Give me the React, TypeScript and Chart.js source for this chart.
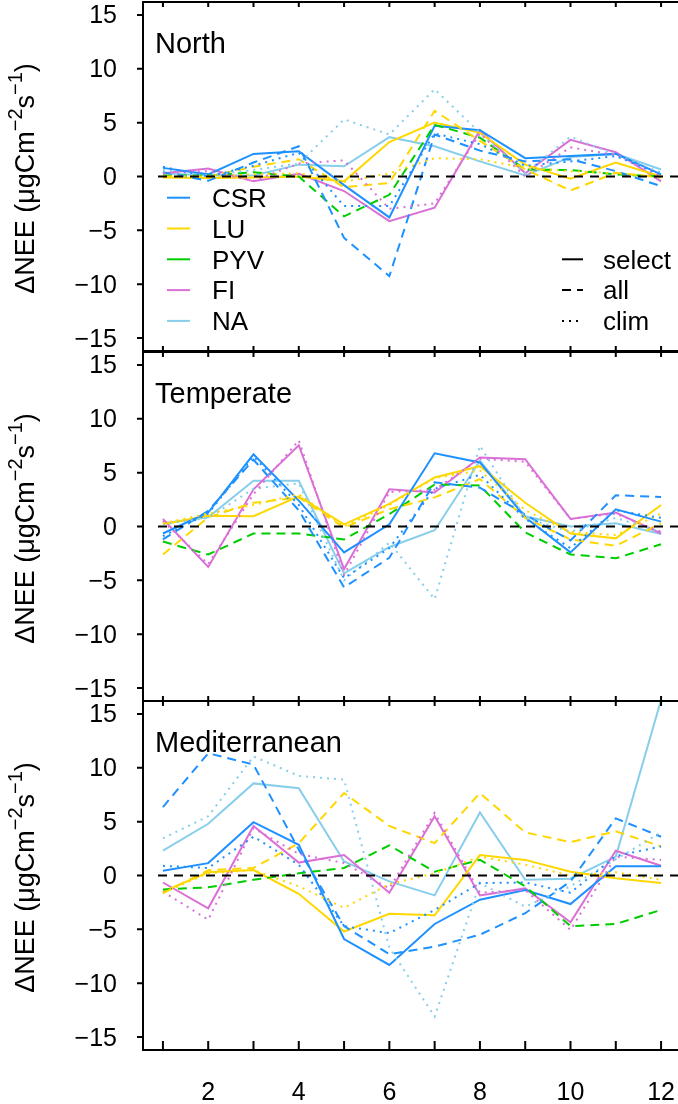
import React, { useEffect, useRef } from 'react';
import { Chart, registerables } from 'chart.js';

Chart.register(...registerables);

// ---------------- data ----------------
const months = [1, 2, 3, 4, 5, 6, 7, 8, 9, 10, 11, 12];
const xTickLabels = ['2', '4', '6', '8', '10', '12'];
const xTickValues = [2, 4, 6, 8, 10, 12];
const yTickValues = [-15, -10, -5, 0, 5, 10, 15];
const groupNames = ['CSR', 'LU', 'PYV', 'FI', 'NA'];
const styleNames = ['select', 'all', 'clim'];
const panelNames = ['North', 'Temperate', 'Mediterranean'];

// North
const northCSRSelect = [0.8, 0.2, 2.1, 2.35, -0.8, -3.8, 4.7, 4.3, 1.7, 1.9, 2.1, 0.2];
const northCSRAll = [0.4, -0.4, 1.3, 2.8, -5.7, -9.25, 3.9, 2.4, 1.4, 1.6, 0.5, -0.9];
const northCSRClim = [0.9, 0.0, 1.0, 2.2, -2.75, -2.75, 4.0, 3.0, 1.0, 1.4, 1.9, 0.2];
const northLUSelect = [-0.1, -0.15, -0.1, 0.0, -0.45, 3.2, 5.0, 4.05, 1.1, -0.2, 1.3, 0.0];
const northLUAll = [0.0, 0.0, 0.9, 1.6, -1.0, -0.6, 6.1, 3.3, 0.65, -1.3, 0.35, -0.1];
const northLUClim = [0.0, 0.0, 0.2, 0.3, -0.5, 0.3, 1.7, 1.6, 0.8, 0.5, 0.3, 0.0];
const northPYVAll = [0.1, 0.1, 0.4, 0.0, -3.7, -1.7, 4.8, 3.6, 0.65, 0.6, 0.2, 0.0];
const northFISelect = [0.3, 0.75, -0.45, 0.25, -1.35, -4.15, -2.9, 4.3, 0.3, 3.4, 2.25, -0.45];
const northFIClim = [0.3, 0.5, -0.4, 1.2, 1.5, -3.0, -2.5, 4.0, 0.0, 2.7, 2.0, 0.0];
const northNASelect = [0.3, 0.1, 0.1, 1.1, 0.95, 3.65, 2.8, 1.4, 0.1, 1.8, 2.1, 0.65];
const northNAClim = [0.6, 0.1, 0.6, 1.2, 5.3, 3.9, 8.1, 4.05, 0.3, 3.7, 2.0, 0.35];

// Temperate
const tempCSRSelect = [-0.65, 1.3, 6.7, 2.4, -2.4, 0.2, 6.8, 5.95, 0.85, -2.4, 1.6, 0.45];
const tempCSRAll = [-1.2, 1.45, 6.2, 1.5, -5.65, -2.9, 4.1, 3.6, 1.1, -1.3, 2.9, 2.75];
const tempCSRClim = [-0.9, 1.2, 6.5, 2.0, -4.8, -2.0, 3.5, 4.8, 0.7, -2.0, 1.5, 0.8];
const tempLUSelect = [0.2, 1.0, 0.95, 2.8, 0.2, 2.1, 4.55, 5.6, 2.2, -0.65, -1.1, 2.0];
const tempLUAll = [-2.6, 0.85, 2.2, 2.7, -0.1, 1.6, 2.7, 4.4, 0.8, -1.2, -1.8, 0.3];
const tempLUClim = [0.3, 1.2, 2.0, 3.0, 0.0, 2.0, 4.5, 5.2, 1.5, -0.5, -0.8, 1.2];
const tempPYVAll = [-1.4, -2.6, -0.65, -0.65, -1.2, 1.15, 3.9, 3.8, -0.55, -2.6, -2.95, -1.65];
const tempFISelect = [0.7, -3.75, 3.45, 7.55, -3.95, 3.45, 3.15, 6.4, 6.25, 0.7, 1.3, -0.65];
const tempFIClim = [0.5, -3.5, 3.0, 8.0, -4.5, 3.2, 3.4, 6.3, 6.0, 0.7, 1.2, -0.5];
const tempNASelect = [0.3, 0.85, 4.25, 4.25, -4.35, -1.9, -0.35, 6.1, 0.95, 0.0, 0.3, -0.7];
const tempNAClim = [0.2, 0.8, 3.5, 4.0, -5.0, -1.5, -6.75, 7.5, 0.8, -0.5, 0.8, -0.5];

// Mediterranean
const medCSRSelect = [0.45, 1.15, 4.95, 2.85, -5.9, -8.3, -4.5, -2.25, -1.35, -2.65, 0.85, 0.85];
const medCSRAll = [6.35, 11.35, 10.3, 2.4, -4.7, -7.3, -6.6, -5.5, -3.5, -0.55, 5.3, 3.6];
const medCSRClim = [0.9, 0.7, 3.6, 1.0, -4.7, -5.35, -3.2, -0.7, -0.65, -1.6, 1.8, 2.7];
const medLUSelect = [-1.5, 0.3, 0.5, -1.7, -5.2, -3.55, -3.7, 1.9, 1.45, 0.35, -0.25, -0.7];
const medLUAll = [-1.65, 0.5, 0.7, 3.0, 7.65, 4.6, 3.0, 7.65, 4.0, 3.1, 4.1, 2.7];
const medLUClim = [-1.6, 0.2, 0.5, -1.0, -3.0, -0.8, 0.2, 1.75, 1.0, 0.0, 0.3, -0.4];
const medPYVAll = [-1.3, -1.1, -0.4, 0.2, 0.7, 2.8, 0.35, 1.45, -1.0, -4.7, -4.5, -3.2];
const medFISelect = [-0.65, -3.05, 4.6, 1.2, 1.9, -1.6, 5.5, -1.85, -1.2, -4.35, 2.3, 0.9];
const medFIClim = [-1.5, -4.1, 4.4, 2.0, 1.15, -1.2, 5.8, -1.6, -1.35, -5.05, 1.75, 1.45];
const medNASelect = [2.3, 4.8, 8.55, 8.1, 1.3, -0.55, -1.85, 5.85, -0.4, -0.3, 1.75, 16.3];
const medNAClim = [3.45, 5.5, 11.05, 9.25, 8.9, -6.7, -13.1, -0.7, -2.9, -1.0, 1.5, 4.0];

type Series = { group: string; style: string; values: number[] };

const panelSeries: Series[][] = [
  [
    { group: 'CSR', style: 'clim', values: northCSRClim },
    { group: 'LU', style: 'clim', values: northLUClim },
    { group: 'FI', style: 'clim', values: northFIClim },
    { group: 'NA', style: 'clim', values: northNAClim },
    { group: 'CSR', style: 'all', values: northCSRAll },
    { group: 'LU', style: 'all', values: northLUAll },
    { group: 'PYV', style: 'all', values: northPYVAll },
    { group: 'CSR', style: 'select', values: northCSRSelect },
    { group: 'LU', style: 'select', values: northLUSelect },
    { group: 'FI', style: 'select', values: northFISelect },
    { group: 'NA', style: 'select', values: northNASelect },
  ],
  [
    { group: 'CSR', style: 'clim', values: tempCSRClim },
    { group: 'LU', style: 'clim', values: tempLUClim },
    { group: 'FI', style: 'clim', values: tempFIClim },
    { group: 'NA', style: 'clim', values: tempNAClim },
    { group: 'CSR', style: 'all', values: tempCSRAll },
    { group: 'LU', style: 'all', values: tempLUAll },
    { group: 'PYV', style: 'all', values: tempPYVAll },
    { group: 'CSR', style: 'select', values: tempCSRSelect },
    { group: 'LU', style: 'select', values: tempLUSelect },
    { group: 'FI', style: 'select', values: tempFISelect },
    { group: 'NA', style: 'select', values: tempNASelect },
  ],
  [
    { group: 'CSR', style: 'clim', values: medCSRClim },
    { group: 'LU', style: 'clim', values: medLUClim },
    { group: 'FI', style: 'clim', values: medFIClim },
    { group: 'NA', style: 'clim', values: medNAClim },
    { group: 'CSR', style: 'all', values: medCSRAll },
    { group: 'LU', style: 'all', values: medLUAll },
    { group: 'PYV', style: 'all', values: medPYVAll },
    { group: 'CSR', style: 'select', values: medCSRSelect },
    { group: 'LU', style: 'select', values: medLUSelect },
    { group: 'FI', style: 'select', values: medFISelect },
    { group: 'NA', style: 'select', values: medNASelect },
  ],
];

// ---------------- styling / layout ----------------
const groupColors: Record<string, string> = {
  CSR: '#1E90FF',
  LU: '#FFD700',
  PYV: '#00CD00',
  FI: '#DA70D6',
  NA: '#87CEEB',
};
const styleDash: Record<string, number[]> = {
  select: [],
  all: [9, 6],
  clim: [2, 5],
};

const CANVAS_W = 700;
const CANVAS_H = 1104;
const VIEW_W = 678;
const PLOT_LEFT = 143;
const PLOT_RIGHT = 681;
const PANEL_TOPS = [2, 352, 701];
const PANEL_H = 349;
const X_MIN = 0.56;
const X_MAX = 12.44;
const Y_MIN = -16.2;
const Y_MAX = 16.2;
const FONT = '"Liberation Sans", Arial, Helvetica, sans-serif';

function drawYTitle(ctx: CanvasRenderingContext2D, baseX: number, cy: number) {
  ctx.save();
  ctx.translate(baseX, cy);
  ctx.rotate(-Math.PI / 2);
  const mainF = `27px ${FONT}`;
  const supF = `20px ${FONT}`;
  const parts: [string, boolean][] = [
    ['\u0394NEE (\u03bcgCm', false],
    ['\u22122', true],
    ['s', false],
    ['\u22121', true],
    [')', false],
  ];
  const widths: number[] = [];
  let total = 0;
  for (const [t, s] of parts) {
    ctx.font = s ? supF : mainF;
    const w = ctx.measureText(t).width;
    widths.push(w);
    total += w;
  }
  let xx = -total / 2;
  ctx.fillStyle = '#000';
  ctx.textAlign = 'left';
  ctx.textBaseline = 'alphabetic';
  parts.forEach(([t, s], i) => {
    ctx.font = s ? supF : mainF;
    ctx.fillText(t, xx, s ? -12 : 0);
    xx += widths[i];
  });
  ctx.restore();
}

function makeDecorPlugin(panelIndex: number) {
  return {
    id: 'decor' + panelIndex,
    afterDatasetsDraw(chart: any) {
      const ctx: CanvasRenderingContext2D = chart.ctx;
      const a = chart.chartArea;
      const xs = chart.scales.x;
      const ys = chart.scales.y;
      ctx.save();
      // zero reference line
      const y0 = ys.getPixelForValue(0);
      ctx.strokeStyle = '#000';
      ctx.lineWidth = 2;
      ctx.setLineDash([9, 7]);
      ctx.beginPath();
      ctx.moveTo(a.left + 15, y0);
      ctx.lineTo(a.right, y0);
      ctx.stroke();
      ctx.setLineDash([]);

      // box
      ctx.lineWidth = 2;
      ctx.strokeRect(a.left, a.top, a.right - a.left, a.bottom - a.top);

      // x ticks (inward, top & bottom)
      const bottomLen = panelIndex === 2 ? 9 : 5;
      ctx.beginPath();
      for (const m of months) {
        const px = xs.getPixelForValue(m);
        ctx.moveTo(px, a.top);
        ctx.lineTo(px, a.top + 5);
        ctx.moveTo(px, a.bottom);
        ctx.lineTo(px, a.bottom - bottomLen);
      }
      ctx.stroke();

      // y ticks + labels
      ctx.font = `25px ${FONT}`;
      ctx.fillStyle = '#000';
      ctx.textAlign = 'right';
      ctx.textBaseline = 'alphabetic';
      ctx.beginPath();
      for (const v of yTickValues) {
        const py = ys.getPixelForValue(v);
        ctx.moveTo(a.left - 6, py);
        ctx.lineTo(a.left, py);
        ctx.fillText(String(v).replace('-', '\u2212'), 117, py + 8.5);
      }
      ctx.stroke();

      // x labels on last panel
      if (panelIndex === 2) {
        ctx.textAlign = 'center';
        xTickValues.forEach((v, i) => {
          ctx.fillText(xTickLabels[i], xs.getPixelForValue(v), 1100);
        });
      }

      // panel title
      ctx.font = `29px ${FONT}`;
      ctx.textAlign = 'left';
      ctx.fillText(panelNames[panelIndex], 155, a.top + 51);

      // y axis title
      drawYTitle(ctx, 34, (a.top + a.bottom) / 2 + 2);

      // legends in first panel
      if (panelIndex === 0) {
        const rows = [197.7, 228.5, 259.3, 290.1, 320.9];
        ctx.font = `26px ${FONT}`;
        ctx.textAlign = 'left';
        groupNames.forEach((g, i) => {
          ctx.strokeStyle = groupColors[g];
          ctx.lineWidth = 2;
          ctx.setLineDash([]);
          ctx.beginPath();
          ctx.moveTo(167, rows[i]);
          ctx.lineTo(190, rows[i]);
          ctx.stroke();
          ctx.fillStyle = '#000';
          ctx.fillText(g, 212, rows[i] + 9.3);
        });
        styleNames.forEach((s, i) => {
          const ry = rows[i + 2];
          ctx.strokeStyle = '#000';
          ctx.lineWidth = 2;
          ctx.setLineDash(styleDash[s]);
          ctx.beginPath();
          ctx.moveTo(562, ry);
          ctx.lineTo(583, ry);
          ctx.stroke();
          ctx.setLineDash([]);
          ctx.fillText(s, 603, ry + 9.3);
        });
      }
      ctx.restore();
    },
  };
}

function buildConfig(panelIndex: number): any {
  const top = PANEL_TOPS[panelIndex];
  const bottom = top + PANEL_H;
  const datasets = panelSeries[panelIndex].map((s) => ({
    label: `${s.group} ${s.style}`,
    data: months.map((m, i) => ({ x: m, y: s.values[i] })),
    borderColor: groupColors[s.group],
    backgroundColor: groupColors[s.group],
    borderWidth: 2,
    borderDash: styleDash[s.style],
    borderCapStyle: 'butt',
    pointRadius: 0,
    tension: 0,
    fill: false,
  }));
  return {
    type: 'line',
    data: { datasets },
    options: {
      responsive: false,
      animation: false,
      devicePixelRatio: 1,
      events: [],
      layout: {
        padding: {
          left: PLOT_LEFT,
          right: CANVAS_W - PLOT_RIGHT,
          top,
          bottom: CANVAS_H - bottom,
        },
      },
      scales: {
        x: { type: 'linear', min: X_MIN, max: X_MAX, display: false },
        y: { type: 'linear', min: Y_MIN, max: Y_MAX, display: false },
      },
      plugins: {
        legend: { display: false },
        tooltip: { enabled: false },
        title: { display: false },
      },
    },
    plugins: [makeDecorPlugin(panelIndex)],
  };
}

function Panel({ index }: { index: number }) {
  const ref = useRef<HTMLCanvasElement | null>(null);
  useEffect(() => {
    if (!ref.current) return;
    const chart = new Chart(ref.current, buildConfig(index));
    return () => chart.destroy();
  }, [index]);
  return (
    <canvas
      ref={ref}
      width={CANVAS_W}
      height={CANVAS_H}
      style={{ position: 'absolute', left: 0, top: 0, width: CANVAS_W, height: CANVAS_H }}
    />
  );
}

export default function App() {
  return (
    <div
      style={{
        position: 'fixed',
        left: 0,
        top: 0,
        width: VIEW_W,
        height: CANVAS_H,
        overflow: 'hidden',
        background: '#fff',
      }}
    >
      {panelNames.map((_, i) => (
        <Panel key={i} index={i} />
      ))}
    </div>
  );
}
